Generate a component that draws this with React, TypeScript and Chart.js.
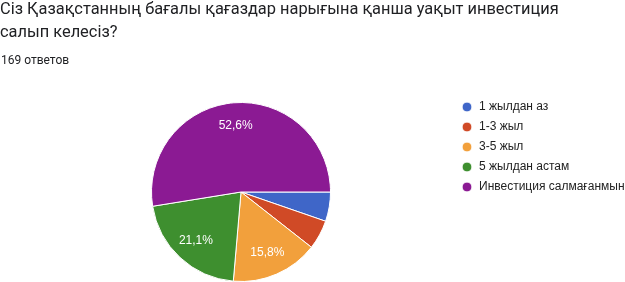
import React, { useEffect, useRef } from "react";
import { Chart, registerables } from "chart.js";

Chart.register(...registerables);

const titleLines = [
  "Сіз Қазақстанның бағалы қағаздар нарығына қанша уақыт инвестиция",
  "салып келесіз?",
];
const responsesText = "169 ответов";
const categories = [
  "1 жылдан аз",
  "1-3 жыл",
  "3-5 жыл",
  "5 жылдан астам",
  "Инвестиция салмағанмын",
];
const percents = [5.3, 5.3, 15.8, 21.1, 52.6];
const colors = ["#3f66c8", "#d04a26", "#f2a03c", "#3e8f2f", "#8b1a93"];

const pctLabelPlugin = {
  id: "pctLabels",
  afterDatasetsDraw(chart: any) {
    const meta = chart.getDatasetMeta(0);
    const data = chart.data.datasets[0].data as number[];
    const ctx = chart.ctx;
    ctx.save();
    ctx.fillStyle = "#ffffff";
    ctx.font = "12px 'Liberation Sans', Arial, sans-serif";
    ctx.textAlign = "center";
    ctx.textBaseline = "middle";
    meta.data.forEach((arc: any, i: number) => {
      const v = data[i];
      if (v < 10) return;
      const mid = (arc.startAngle + arc.endAngle) / 2;
      const r = arc.outerRadius * 0.74;
      const x = arc.x + Math.cos(mid) * r;
      const y = arc.y + Math.sin(mid) * r;
      ctx.fillText(v.toFixed(1).replace(".", ",") + "%", x, y);
    });
    ctx.restore();
  },
};

export default function App() {
  const ref = useRef<HTMLCanvasElement | null>(null);
  useEffect(() => {
    if (!ref.current) return;
    const chart = new Chart(ref.current, {
      type: "pie",
      data: {
        labels: categories,
        datasets: [
          {
            data: percents,
            backgroundColor: colors,
            borderColor: "#ffffff",
            borderWidth: 1,
            radius: 89.5,
          },
        ],
      },
      options: {
        animation: false,
        responsive: false,
        maintainAspectRatio: false,
        rotation: 90,
        layout: { padding: { left: 29, top: 93, right: 0, bottom: 0 } },
        plugins: {
          tooltip: { enabled: false },
          legend: {
            position: "right",
            align: "start",
            maxWidth: 172,
            labels: {
              usePointStyle: true,
              pointStyle: "circle",
              boxWidth: 12,
              boxHeight: 7,
              padding: 8,
              color: "#222222",
              font: { family: "'Liberation Sans', Arial, sans-serif", size: 12 },
            },
          },
        },
      },
      plugins: [pctLabelPlugin],
    });
    return () => chart.destroy();
  }, []);

  return (
    <div
      style={{
        position: "fixed",
        left: 0,
        top: 0,
        width: 625,
        height: 282,
        overflow: "hidden",
        background: "#ffffff",
      }}
    >
      <canvas
        ref={ref}
        width={625}
        height={291}
        style={{ position: "absolute", left: 0, top: 0, width: 625, height: 291 }}
      />
      <div
        style={{
          position: "absolute",
          left: 0,
          top: -2.8,
          fontFamily: "Roboto, sans-serif",
          fontSize: 16.4,
          lineHeight: "23px",
          color: "#202124",
          whiteSpace: "nowrap",
        }}
      >
        {titleLines.map((t, i) => (
          <div key={i}>{t}</div>
        ))}
      </div>
      <div
        style={{
          position: "absolute",
          left: 1,
          top: 53,
          fontFamily: "Roboto, sans-serif",
          fontSize: 12,
          lineHeight: "14px",
          color: "#202124",
          whiteSpace: "nowrap",
        }}
      >
        {responsesText}
      </div>
    </div>
  );
}
